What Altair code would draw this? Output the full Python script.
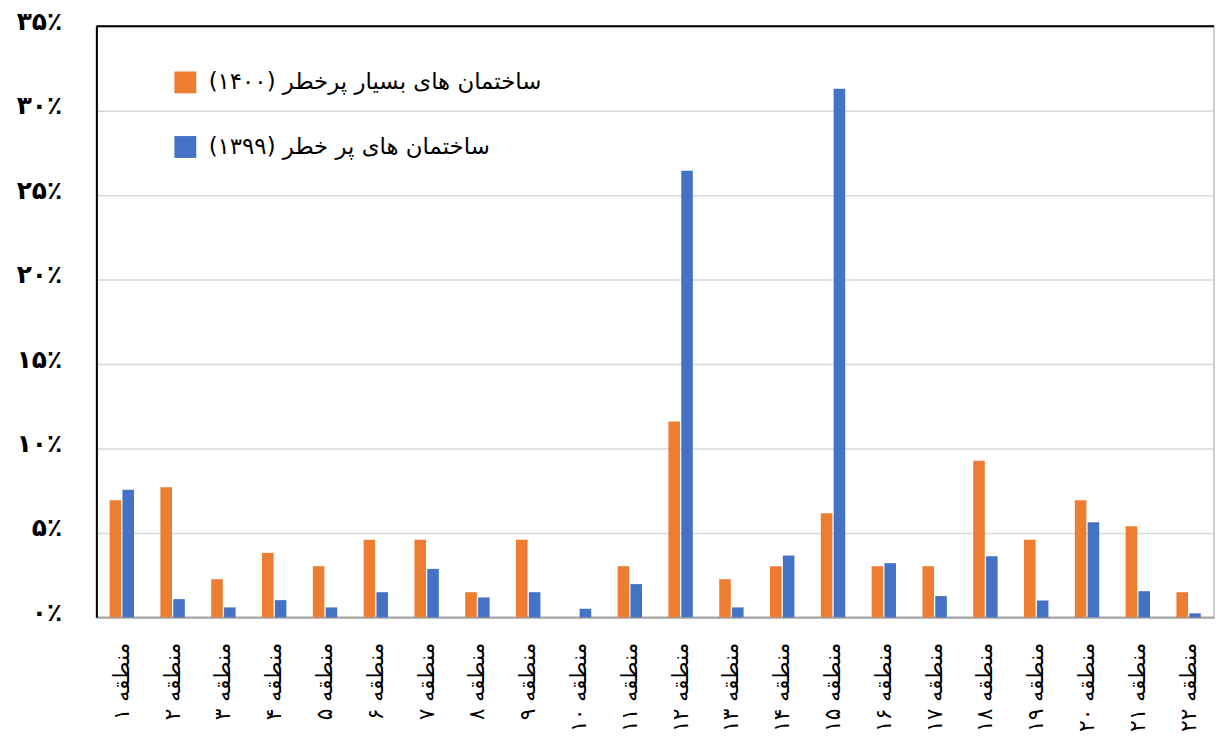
import altair as alt
import pandas as pd

# ---- data ----
regions = ['منطقه ۱', 'منطقه ۲', 'منطقه ۳', 'منطقه ۴', 'منطقه ۵', 'منطقه ۶', 'منطقه ۷',
           'منطقه ۸', 'منطقه ۹', 'منطقه ۱۰', 'منطقه ۱۱', 'منطقه ۱۲', 'منطقه ۱۳', 'منطقه ۱۴',
           'منطقه ۱۵', 'منطقه ۱۶', 'منطقه ۱۷', 'منطقه ۱۸', 'منطقه ۱۹', 'منطقه ۲۰', 'منطقه ۲۱',
           'منطقه ۲۲']
series_names = ['ساختمان های بسیار پرخطر (۱۴۰۰)', 'ساختمان های پر خطر (۱۳۹۹)']
very_high_risk_1400 = [6.93, 7.71, 2.26, 3.82, 3.03, 4.60, 4.60, 1.49, 4.60, 0.00, 3.03,
                       11.60, 2.26, 3.03, 6.16, 3.03, 3.03, 9.27, 4.60, 6.93, 5.39, 1.49]
high_risk_1399 = [7.56, 1.08, 0.59, 1.02, 0.59, 1.49, 2.87, 1.18, 1.49, 0.51, 1.97,
                  26.45, 0.59, 3.66, 31.30, 3.21, 1.26, 3.62, 1.00, 5.63, 1.55, 0.24]
y_tick_values = [0, 0.05, 0.10, 0.15, 0.20, 0.25, 0.30, 0.35]
y_tick_labels = ['۰٪', '۵٪', '۱۰٪', '۱۵٪', '۲۰٪', '۲۵٪', '۳۰٪', '۳۵٪']
series_colors = ['#ED7D31', '#4472C4']

RLM = '\u200f'
legend_names = [s + RLM for s in series_names]

rows = []
for i, r in enumerate(regions):
    rows.append({'region': r, 'series': legend_names[0], 'value': very_high_risk_1400[i] / 100})
    rows.append({'region': r, 'series': legend_names[1], 'value': high_risk_1399[i] / 100})
df = pd.DataFrame(rows)

FONT = 'DejaVu Sans'
label_expr = '[' + ','.join("'" + t + "'" for t in y_tick_labels) + '][round(datum.value*20)]'

bars = alt.Chart(df).mark_bar().encode(
    x=alt.X('region:N', sort=regions, title=None,
            scale=alt.Scale(paddingInner=0.52, paddingOuter=0.26),
            axis=alt.Axis(labelAngle=-90, labelFont=FONT, labelFontSize=22, labelColor='black',
                          labelPadding=25, ticks=False, domainColor='#a6a6a6', domainWidth=2,
                          labelLimit=300)),
    xOffset=alt.XOffset('series:N', sort=legend_names,
                        scale=alt.Scale(paddingInner=0.1, paddingOuter=0)),
    y=alt.Y('value:Q', title=None,
            scale=alt.Scale(domain=[0, 0.35], nice=False),
            axis=alt.Axis(values=y_tick_values, labelExpr=label_expr, labelFont=FONT,
                          labelFontSize=25, labelFontWeight='bold', labelColor='black',
                          labelPadding=35, labelOffset=-5, ticks=False, domainColor='black',
                          domainWidth=2, gridColor='#d9d9d9', gridWidth=1.5)),
    color=alt.Color('series:N', sort=legend_names,
                    scale=alt.Scale(domain=legend_names, range=series_colors),
                    legend=alt.Legend(title=None, orient='none', legendX=78, legendY=45,
                                      labelFont=FONT, labelFontSize=23, labelColor='black',
                                      symbolType='square', symbolSize=484, symbolStrokeWidth=0,
                                      symbolOpacity=1, rowPadding=41, labelOffset=12,
                                      labelLimit=600)),
)

top_rule = alt.Chart(pd.DataFrame({'y': [0.35]})).mark_rule(color='black', strokeWidth=2).encode(
    y=alt.Y('y:Q')
)

chart = alt.layer(bars, top_rule).properties(
    width=1125, height=595,
    autosize=alt.AutoSizeParams(type='none'),
    padding={'left': 89, 'top': 16, 'right': 3, 'bottom': 115},
).configure_view(stroke='#bfbfbf', strokeWidth=1.5)

chart.save('out.html', embed_options={'renderer': 'svg', 'actions': False})
